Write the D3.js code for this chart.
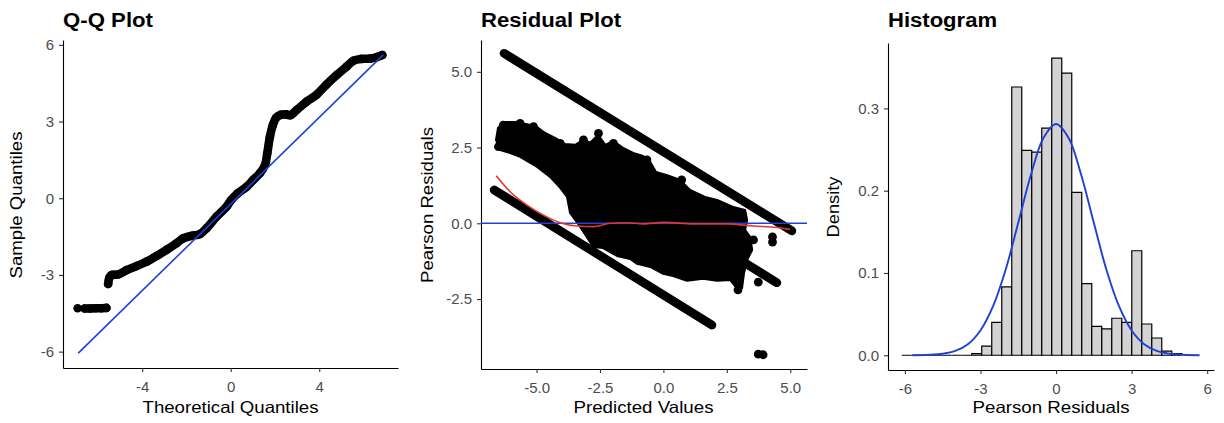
<!DOCTYPE html>
<html><head><meta charset="utf-8">
<script src="https://cdn.jsdelivr.net/npm/d3@7"></script>
<style>
html,body{margin:0;padding:0;background:#fff;}
svg{display:block;font-family:"Liberation Sans",Arial,Helvetica,sans-serif;}
</style></head><body>
<svg id="chart" width="1224" height="423"></svg>
<script>
// ---------------- DATA ----------------
// Q-Q plot: sample quantiles vs theoretical quantiles (two visible runs)
const qqLowTheo   = [-6.92, -6.60, -6.35, -6.10, -5.85, -5.62];
const qqLowSample = [-4.30, -4.31, -4.31, -4.30, -4.30, -4.29];
const qqTheo   = [-5.54, -5.48, -5.38, -5.08, -4.71, -4.25, -3.80, -3.35, -2.90, -2.45, -2.15, -1.77, -1.39, -1.09, -0.64, -0.19, 0.02, 0.30, 0.72, 1.02, 1.32, 1.55, 1.65, 1.77, 1.90, 2.05, 2.25, 2.50, 2.70, 2.98, 3.43, 3.88, 4.33, 4.79, 5.24, 5.55, 5.90, 6.29, 6.60, 6.85];
const qqSample = [-3.35, -3.10, -3.00, -2.98, -2.81, -2.65, -2.48, -2.26, -2.02, -1.76, -1.57, -1.47, -1.40, -1.17, -0.72, -0.33, -0.07, 0.18, 0.45, 0.72, 0.98, 1.30, 1.75, 2.40, 2.85, 3.15, 3.26, 3.28, 3.25, 3.45, 3.78, 4.05, 4.45, 4.82, 5.15, 5.38, 5.45, 5.46, 5.52, 5.60];
const qqLineTheo   = [-6.89, 6.89];
const qqLineSample = [-6.06, 5.61];

// Residual plot: dense point cloud outline (predicted, residual)
const cloudPred  = [-6.52,-6.24,-5.85,-5.37,-4.98,-4.66,-4.27,-3.88,-3.48,-3.14,-2.89,-2.57,-2.29,-1.98,-1.59,-1.19,-0.80,-0.52,-0.29,0.15,0.66,1.05,1.64,2.12,2.75,3.22,3.30,3.22,3.42,3.50,3.30,3.18,3.10,2.94,2.63,2.12,1.56,0.93,0.38,-0.01,-0.52,-1.04,-1.31,-1.83,-2.38,-2.77,-3.28,-3.68,-3.80,-4.07,-4.47,-4.98,-5.65,-6.04,-6.44,-6.60];
const cloudResid = [3.15,3.34,3.34,3.27,3.18,2.98,2.82,2.62,2.59,2.76,2.66,2.92,2.59,2.72,2.49,2.32,2.22,2.02,1.69,1.59,1.43,1.10,0.87,0.77,0.54,0.44,0.11,-0.22,-0.45,-0.88,-1.21,-1.64,-2.14,-2.20,-1.87,-1.90,-1.83,-1.90,-1.74,-1.67,-1.44,-1.34,-1.18,-1.08,-0.82,-0.78,-0.12,0.34,0.87,1.17,1.53,1.86,2.19,2.32,2.42,2.75];
// Residual bands (start/end of the straight point streaks)
const bandPredStart  = [-6.28, -6.67, 3.20];
const bandResidStart = [5.61, 1.10, -1.30];
const bandPredEnd    = [5.06, 1.91, 4.47];
const bandResidEnd   = [-0.25, -3.36, -1.96];
// Individual points around the cloud edge
const dotPred  = [-6.31,-5.65,-5.12,-6.50,-4.07,-3.15,-2.56,-1.97,-0.65,0.72,3.55,4.30,4.30,3.74,2.94,3.74,3.93];
const dotResid = [3.24,3.30,3.19,2.53,2.64,2.75,2.97,2.64,2.09,1.43,-0.55,-0.45,-0.62,-1.94,-2.20,-4.32,-4.34];
// Smoothed (loess) trend
const loessPred  = [-6.59,-6.04,-5.38,-4.73,-4.07,-3.41,-2.76,-2.10,-1.44,-0.79,0.00,1.18,2.50,3.55,4.47,4.99];
const loessResid = [1.57,1.04,0.60,0.27,0.02,-0.09,-0.11,0.00,0.02,-0.02,0.03,-0.02,-0.02,-0.09,-0.14,-0.20];

// Histogram of Pearson residuals
const histBinWidth = 0.397;
const histBinLeft = [-6.125,-5.728,-5.331,-4.934,-4.537,-4.140,-3.743,-3.346,-2.949,-2.552,-2.155,-1.758,-1.361,-0.964,-0.567,-0.170,0.227,0.624,1.021,1.418,1.815,2.212,2.609,3.006,3.403,3.800,4.197,4.594];
const histDensity = [0,0,0,0,0,0,0,0.002,0.011,0.040,0.083,0.326,0.249,0.247,0.276,0.361,0.343,0.198,0.087,0.035,0.032,0.045,0.040,0.127,0.038,0.021,0.005,0.002];
// Normal density curve overlay
const normX = [-5.7,-5,-4.5,-4,-3.5,-3,-2.5,-2,-1.5,-1,-0.5,0,0.5,1,1.5,2,2.5,3,3.5,4,4.5,5,5.7];
const normY = [0.0001,0.0006,0.0019,0.0053,0.0135,0.0302,0.0597,0.104,0.161,0.219,0.264,0.281,0.264,0.219,0.161,0.104,0.0597,0.0302,0.0135,0.0053,0.0019,0.0006,0.0001];

// Tick labels
const qqXTicks = [-4, 0, 4];
const qqYTicks = [-6, -3, 0, 3, 6];
const resXTicks = [-5, -2.5, 0, 2.5, 5];
const resYTicks = [-2.5, 0, 2.5, 5];
const histXTicks = [-6, -3, 0, 3, 6];
const histYTicks = [0, 0.1, 0.2, 0.3];

// ---------------- DRAW ----------------
const svg = d3.select("#chart");
const BLUE = "#2140d2", RED = "#e2372b", TICKCOL = "#4d4d4d";

function text(str, x, y, o) {
  const t = svg.append("text").text(str)
    .attr("x", x).attr("y", y)
    .attr("font-size", o.size)
    .attr("fill", o.fill || "#000")
    .attr("font-weight", o.bold ? "bold" : "normal")
    .attr("text-anchor", o.anchor || "start");
  if (o.len) t.attr("textLength", o.len).attr("lengthAdjust", "spacingAndGlyphs");
  if (o.rot) t.attr("transform", `rotate(-90 ${x} ${y})`);
  return t;
}

function panel(p) {
  const x = d3.scaleLinear().domain(p.xd).range([p.x0, p.x1]);
  const y = d3.scaleLinear().domain(p.yd).range([p.y1, p.y0]);
  const g = svg.append("g");
  const fmt = p.fmt ? d3.format(p.fmt) : (d => String(d));
  const fmtM = d => fmt(d).replace("−", "-");
  const ax = g.append("g").attr("transform", `translate(0,${p.y1})`)
    .call(d3.axisBottom(x).tickValues(p.xt).tickFormat(fmtM).tickSize(4).tickSizeOuter(0).tickPadding(9));
  const ay = g.append("g").attr("transform", `translate(${p.x0},0)`)
    .call(d3.axisLeft(y).tickValues(p.yt).tickFormat(p.yfmt ? (d => d3.format(p.yfmt)(d).replace("−","-")) : fmtM).tickSize(4).tickSizeOuter(0).tickPadding(5));
  [ax, ay].forEach(a => {
    a.select(".domain").attr("stroke", "#000").attr("stroke-width", 1.1);
    a.selectAll(".tick line").attr("stroke", "#333").attr("stroke-width", 1.1);
    a.selectAll(".tick text").attr("fill", TICKCOL).attr("font-size", 15)
      .attr("font-family", '"Liberation Sans",Arial,Helvetica,sans-serif');
  });
  const plot = svg.append("g");
  return {x, y, plot};
}

// ---- Panel 1: Q-Q ----
{
  const P = panel({x0: 63, x1: 398, y0: 40, y1: 368, xd: [-7.58, 7.56], yd: [-6.64, 6.19], xt: qqXTicks, yt: qqYTicks});
  const line = d3.line().x(d => P.x(d[0])).y(d => P.y(d[1]));
  const low = qqLowTheo.map((v, i) => [v, qqLowSample[i]]);
  const main = qqTheo.map((v, i) => [v, qqSample[i]]);
  P.plot.append("path").datum(low.slice(1)).attr("d", line)
    .attr("fill", "none").attr("stroke", "#000").attr("stroke-width", 8.6)
    .attr("stroke-linecap", "round").attr("stroke-linejoin", "round");
  P.plot.append("path").datum(main).attr("d", d3.line().x(d => P.x(d[0])).y(d => P.y(d[1])).curve(d3.curveCatmullRom))
    .attr("fill", "none").attr("stroke", "#000").attr("stroke-width", 8.6)
    .attr("stroke-linecap", "round").attr("stroke-linejoin", "round");
  P.plot.selectAll("circle.qq").data(low.concat(main)).join("circle")
    .attr("cx", d => P.x(d[0])).attr("cy", d => P.y(d[1])).attr("r", 4.3).attr("fill", "#000");
  P.plot.append("path").datum(qqLineTheo.map((v, i) => [v, qqLineSample[i]])).attr("d", line)
    .attr("stroke", BLUE).attr("stroke-width", 1.6).attr("fill", "none");
  text("Q-Q Plot", 63, 27, {size: 20, bold: true, len: 90});
  text("Theoretical Quantiles", 230.5, 413, {size: 16.5, anchor: "middle", len: 176});
  text("Sample Quantiles", 22, 205, {size: 16.5, anchor: "middle", len: 147, rot: true});
}

// ---- Panel 2: Residuals ----
{
  const P = panel({x0: 481, x1: 807, y0: 40, y1: 369, xd: [-7.19, 5.66], yd: [-4.81, 6.05], xt: resXTicks, yt: resYTicks, fmt: ".1f"});
  const cloud = cloudPred.map((v, i) => [v, cloudResid[i]]);
  P.plot.append("path").datum(cloud)
    .attr("d", d3.line().x(d => P.x(d[0])).y(d => P.y(d[1])).curve(d3.curveLinearClosed))
    .attr("fill", "#000").attr("stroke", "#000").attr("stroke-width", 2).attr("stroke-linejoin", "round");
  P.plot.selectAll("line.band").data(bandPredStart).join("line")
    .attr("x1", (d, i) => P.x(d)).attr("y1", (d, i) => P.y(bandResidStart[i]))
    .attr("x2", (d, i) => P.x(bandPredEnd[i])).attr("y2", (d, i) => P.y(bandResidEnd[i]))
    .attr("stroke", "#000").attr("stroke-width", 8.8).attr("stroke-linecap", "round");
  P.plot.selectAll("circle.dot").data(dotPred).join("circle")
    .attr("cx", d => P.x(d)).attr("cy", (d, i) => P.y(dotResid[i])).attr("r", 4.4).attr("fill", "#000");
  P.plot.append("line").attr("x1", P.x.range()[0]).attr("x2", P.x.range()[1])
    .attr("y1", P.y(0)).attr("y2", P.y(0)).attr("stroke", BLUE).attr("stroke-width", 1.6);
  P.plot.append("path").datum(loessPred.map((v, i) => [v, loessResid[i]]))
    .attr("d", d3.line().x(d => P.x(d[0])).y(d => P.y(d[1])).curve(d3.curveMonotoneX))
    .attr("fill", "none").attr("stroke", RED).attr("stroke-width", 1.6);
  text("Residual Plot", 481, 27, {size: 20, bold: true, len: 140});
  text("Predicted Values", 643.5, 413, {size: 16.5, anchor: "middle", len: 140});
  text("Pearson Residuals", 433, 205, {size: 16.5, anchor: "middle", len: 156, rot: true});
}

// ---- Panel 3: Histogram ----
{
  const P = panel({x0: 888, x1: 1214, y0: 43, y1: 370, xd: [-6.67, 6.27], yd: [-0.0179, 0.3795], xt: histXTicks, yt: histYTicks, yfmt: ".1f"});
  P.plot.selectAll("path.bar").data(histBinLeft).join("path")
    .attr("d", (d, i) => {
      const xa = P.x(d), xb = P.x(d + histBinWidth), y0 = P.y(0), y1 = P.y(histDensity[i]);
      return `M${xa},${y0}V${y1}H${xb}V${y0}Z`;
    })
    .attr("fill", "#d3d3d3").attr("stroke", "#000").attr("stroke-width", 1.2).attr("stroke-linejoin", "miter");
  P.plot.append("path").datum(normX.map((v, i) => [v, normY[i]]))
    .attr("d", d3.line().x(d => P.x(d[0])).y(d => P.y(d[1])).curve(d3.curveCatmullRom))
    .attr("fill", "none").attr("stroke", BLUE).attr("stroke-width", 1.9);
  text("Histogram", 888, 27, {size: 20, bold: true, len: 109});
  text("Pearson Residuals", 1051, 413, {size: 16.5, anchor: "middle", len: 157});
  text("Density", 839, 207, {size: 16.5, anchor: "middle", len: 61, rot: true});
}
</script>
</body></html>
